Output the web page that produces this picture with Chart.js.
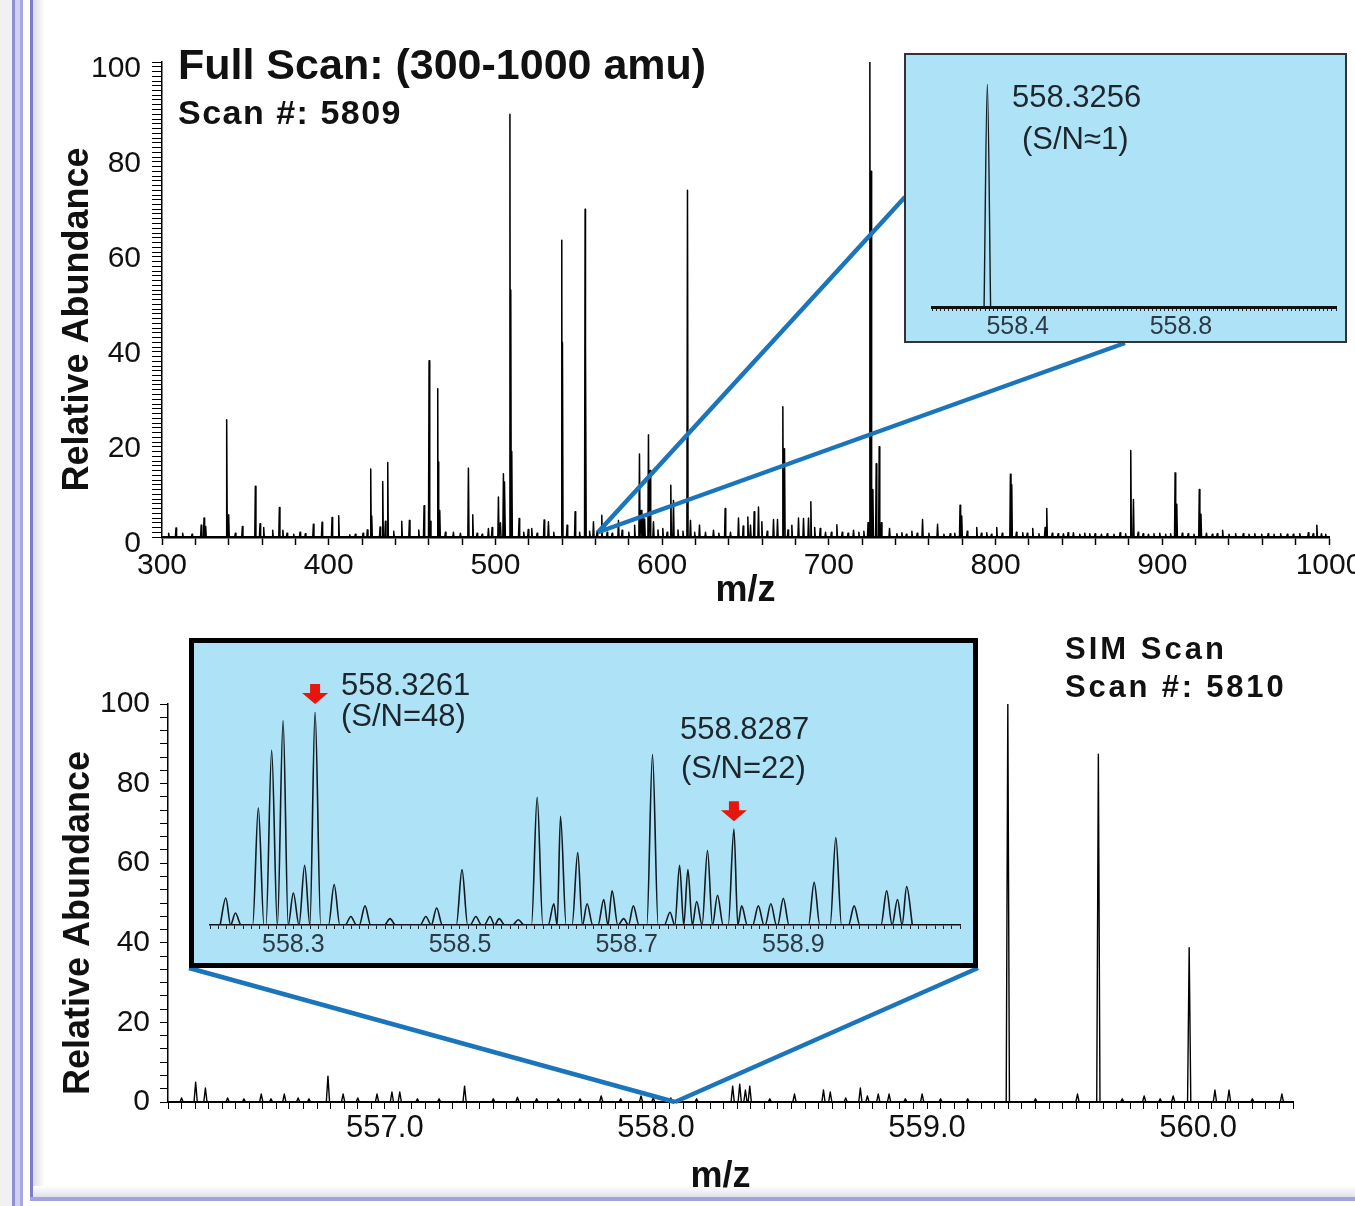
<!DOCTYPE html>
<html>
<head>
<meta charset="utf-8">
<title>Full scan vs SIM scan</title>
<script src="https://cdn.jsdelivr.net/npm/chart.js@4.4.1/dist/chart.umd.min.js"></script>
<style>
  html, body { margin: 0; padding: 0; background: #fff; }
  body { width: 1355px; height: 1206px; position: relative; overflow: hidden;
         font-family: "Liberation Sans", Arial, sans-serif; }
  canvas { position: absolute; left: 0; top: 0; z-index: 1; }
  .frame { position: absolute; z-index: 0; }
  .box { position: absolute; box-sizing: border-box; background: #aee2f6; z-index: 2; }
  .box canvas { position: absolute; left: 0; top: 0; }
  .txt { position: absolute; line-height: 1; white-space: pre; color: #111; z-index: 3; }
  .b { font-weight: bold; }
  .in { color: #1c262c; font-size: 31px; }
</style>
</head>
<body>
<!-- slide frame -->
<div class="frame" style="left:0;top:0;width:12px;height:1206px;background:#f1f1f4"></div>
<div class="frame" style="left:12px;top:0;width:3px;height:1206px;background:#8f8fd2"></div>
<div class="frame" style="left:15px;top:0;width:5px;height:1206px;background:#d0d0f2"></div>
<div class="frame" style="left:20px;top:0;width:3px;height:1206px;background:#a9a9e2"></div>
<div class="frame" style="left:30px;top:0;width:3px;height:1200px;background:#7c7cc9"></div>
<div class="frame" style="left:33px;top:0;width:12px;height:1196px;background:linear-gradient(to right,#dcdce6,#fff)"></div>
<div class="frame" style="left:33px;top:1186px;width:1322px;height:11px;background:linear-gradient(to bottom,#fff,#e0e0ea)"></div>
<div class="frame" style="left:30px;top:1197px;width:1325px;height:4px;background:#a4a4da"></div>

<canvas id="fullScan" width="1355" height="620"></canvas>
<canvas id="simScan" width="1355" height="586" style="top:620px"></canvas>

<div class="box" style="left:904px;top:53px;width:443px;height:290px;border:2px solid #333">
  <canvas id="fullInset" width="439" height="286"></canvas>
</div>
<div class="box" style="left:189px;top:638px;width:789px;height:330px;border:5px solid #000">
  <canvas id="simInset" width="779" height="320"></canvas>
</div>

<div class="txt b" style="left:178px;top:43px;font-size:43px">Full Scan: (300-1000 amu)</div>
<div class="txt b" style="left:178px;top:95px;font-size:34px;letter-spacing:1.5px">Scan #: 5809</div>
<div class="txt in" style="left:1012px;top:81px">558.3256</div>
<div class="txt in" style="left:1022px;top:123px">(S/N≈1)</div>
<div class="txt in" style="left:341px;top:669px">558.3261</div>
<div class="txt in" style="left:341px;top:700px">(S/N=48)</div>
<div class="txt in" style="left:680px;top:713px">558.8287</div>
<div class="txt in" style="left:681px;top:752px">(S/N=22)</div>
<div class="txt b" style="left:1065px;top:633px;font-size:31px;letter-spacing:3px">SIM Scan</div>
<div class="txt b" style="left:1065px;top:671px;font-size:31px;letter-spacing:2.8px">Scan #: 5810</div>

<script>
// ---- full scan 300-1000 (scan 5809): peak m/z and relative abundance ----
const fullScanMz = [
  304.0, 308.4, 312.4, 318.0, 323.5, 325.2, 326.2, 338.8, 340.0, 344.0, 348.2, 356.0, 358.8, 361.0,
  366.4, 370.4, 372.5, 375.0, 379.0, 382.8, 386.0, 390.8, 396.0, 402.0, 406.0, 412.6, 416.0, 420.6,
  423.2, 425.2, 425.8, 430.8, 432.4, 434.0, 435.4, 439.0, 443.8, 448.4, 454.0, 457.2, 460.2, 461.0,
  465.4, 465.8, 466.6, 470.0, 474.8, 479.0, 483.8, 486.4, 489.0, 492.0, 495.8, 498.0, 501.8, 503.0,
  504.8, 505.6, 508.7, 509.2, 509.8, 514.2, 517.0, 519.7, 521.8, 525.0, 529.2, 531.8, 535.0, 539.8,
  540.2, 543.0, 547.8, 550.5, 553.8, 554.1, 556.5, 558.8, 561.0, 563.8, 567.0, 570.0, 573.8, 576.0,
  580.0, 583.5, 586.4, 587.5, 588.5, 589.5, 591.8, 592.8, 594.8, 597.5, 600.4, 603.0, 605.2, 606.8,
  609.5, 612.5, 615.2, 617.0, 619.5, 622.4, 626.0, 630.8, 634.0, 637.8, 641.0, 645.8, 648.6, 651.4,
  653.0, 655.2, 657.8, 659.8, 663.0, 666.8, 669.2, 672.4, 673.4, 675.5, 677.8, 681.8, 684.8, 687.8,
  689.2, 691.5, 694.8, 698.0, 701.5, 704.8, 708.0, 711.5, 714.8, 718.0, 721.0, 723.5, 724.6, 725.3,
  726.4, 728.4, 730.2, 731.5, 736.4, 740.8, 743.8, 746.5, 749.8, 753.0, 756.2, 760.0, 765.2, 769.0,
  772.8, 775.5, 778.7, 779.7, 783.0, 788.7, 791.5, 794.7, 797.5, 800.7, 804.0, 808.9, 809.7, 812.5,
  816.3, 819.0, 822.3, 826.0, 829.7, 830.7, 834.0, 837.5, 840.7, 843.5, 846.7, 850.5, 853.5, 856.5,
  859.7, 863.5, 867.0, 871.0, 874.7, 878.0, 881.1, 882.7, 885.5, 888.5, 891.7, 895.0, 898.5, 902.0,
  905.0, 907.7, 908.7, 912.0, 915.5, 919.0, 922.2, 923.2, 926.5, 930.0, 933.0, 936.2, 940.0, 944.0,
  948.6, 952.0, 955.5, 959.6, 963.5, 967.0, 971.0, 975.0, 978.6, 982.5, 987.6, 990.5, 992.7, 995.5,
  998.0
];
const fullScanAbund = [
  0.8, 1.9, 0.8, 0.6, 2.5, 4.0, 2.2, 24.7, 4.7, 0.8, 2.2, 10.7, 2.8, 2.0,
  1.4, 6.2, 1.4, 0.8, 0.6, 1.0, 0.7, 2.7, 3.1, 4.1, 4.5, 0.5, 0.6, 0.8,
  1.5, 14.3, 4.4, 2.1, 11.7, 3.3, 15.7, 1.2, 3.3, 3.5, 1.5, 6.6, 37.1, 3.3,
  31.2, 15.8, 5.6, 1.0, 1.0, 0.8, 14.5, 4.7, 0.8, 0.6, 1.8, 2.0, 8.4, 3.0,
  13.3, 11.6, 89.0, 52.0, 18.0, 3.9, 1.0, 1.6, 1.8, 0.8, 3.6, 3.2, 1.0, 62.5,
  41.0, 2.5, 5.3, 1.0, 69.0, 40.0, 1.2, 3.2, 1.2, 4.6, 1.0, 0.8, 3.5, 1.4,
  1.0, 2.5, 17.5, 5.6, 4.5, 3.8, 21.5, 14.0, 3.2, 1.5, 1.8, 1.0, 10.9, 7.7,
  1.5, 1.2, 73.0, 3.5, 1.0, 2.5, 1.0, 1.4, 0.8, 6.0, 1.0, 4.0, 2.3, 4.2,
  2.5, 5.3, 6.3, 3.2, 1.2, 3.7, 3.7, 27.4, 18.6, 1.5, 2.5, 4.0, 3.9, 4.0,
  7.4, 2.0, 1.8, 1.0, 1.0, 2.6, 1.0, 0.8, 1.4, 1.0, 1.2, 3.0, 100.0, 77.0,
  10.0, 15.4, 19.0, 3.0, 1.8, 0.7, 0.9, 0.6, 1.2, 0.8, 3.7, 0.8, 2.7, 0.6,
  0.7, 0.8, 6.7, 4.4, 1.2, 2.0, 0.8, 0.9, 0.6, 2.0, 0.8, 13.2, 11.0, 1.0,
  0.9, 0.8, 1.8, 0.7, 2.0, 6.0, 0.8, 0.7, 0.7, 0.9, 0.9, 0.6, 0.8, 0.7,
  0.7, 0.6, 0.7, 0.6, 0.9, 0.7, 18.2, 7.9, 1.0, 0.7, 0.6, 0.7, 0.8, 0.6,
  0.7, 13.5, 6.9, 0.8, 0.7, 0.6, 10.0, 4.8, 0.8, 0.6, 0.7, 1.4, 0.6, 0.7,
  0.7, 0.6, 0.7, 0.6, 0.7, 0.6, 0.7, 0.6, 0.6, 0.7, 0.9, 0.7, 2.5, 0.7,
  0.6
];

// ---- zoom of the full scan around 558 ----
const fullInsetMz = [558.3256];
const fullInsetAbund = [100];

// ---- SIM scan (scan 5810) ----
const simMz = [
  556.250, 556.302, 556.338, 556.420, 556.480, 556.544, 556.580, 556.629, 556.680, 556.720,
  556.790, 556.846, 556.900, 556.971, 557.026, 557.055, 557.120, 557.200, 557.294, 557.400,
  557.489, 557.560, 557.640, 557.720, 557.798, 557.870, 557.945, 557.990, 558.055, 558.150,
  558.283, 558.309, 558.330, 558.346, 558.420, 558.511, 558.618, 558.643, 558.700, 558.754,
  558.780, 558.820, 558.860, 558.920, 558.982, 559.050, 559.150, 559.298, 559.400, 559.555,
  559.632, 559.720, 559.801, 559.860, 559.908, 559.967, 560.062, 560.114, 560.200, 560.309
];
const simAbund = [
  1.0, 5.0, 3.5, 1.0, 0.8, 2.0, 0.8, 2.0, 1.0, 0.8,
  6.5, 2.0, 1.0, 2.0, 2.5, 2.5, 0.8, 0.8, 4.0, 0.8,
  1.2, 0.8, 0.8, 0.8, 1.5, 0.8, 1.5, 1.0, 1.0, 0.8,
  4.0, 4.5, 3.0, 4.0, 0.8, 2.0, 3.0, 2.5, 1.0, 3.5,
  1.5, 2.0, 2.0, 0.8, 2.0, 0.8, 0.8, 100.0, 0.8, 2.0,
  87.4, 0.8, 1.5, 0.8, 1.5, 38.8, 3.0, 3.0, 0.8, 2.0
];

// ---- zoom of the SIM scan 558.2-559.1 ----
const simInsetMz = [
  558.2190, 558.2305, 558.2580, 558.2740, 558.2877, 558.3000, 558.3136, 558.3261, 558.3490, 558.3690,
  558.3860, 558.4160, 558.4590, 558.4720, 558.5024, 558.5190, 558.5360, 558.5470, 558.5700, 558.5926,
  558.6126, 558.6206, 558.6413, 558.6525, 558.6725, 558.6825, 558.6964, 558.7080, 558.7310, 558.7520,
  558.7635, 558.7735, 558.7840, 558.7970, 558.8090, 558.8287, 558.8380, 558.8580, 558.8730, 558.8880,
  558.9250, 558.9510, 558.9730, 559.0120, 559.0250, 559.0360
];
const simInsetAbund = [
  12.7, 5.6, 55, 82, 96, 15, 28, 100, 19, 4,
  9, 3, 4, 8, 26, 4, 4, 3, 2.5, 60,
  10, 51, 34, 10, 12, 16, 3, 9, 80, 6,
  28, 26, 11, 35, 14, 45, 9, 9, 10, 12.5,
  20, 41, 9, 16, 12, 18
];
const markedPeaks = [558.3261, 558.8287];

// tick labels
const fullScanTicks = [300, 400, 500, 600, 700, 800, 900, 1000];
const abundTicks = [0, 20, 40, 60, 80, 100];
const simTicks = [557, 558, 559, 560];
const fullInsetTicks = [558.4, 558.8];
const simInsetTicks = [558.3, 558.5, 558.7, 558.9];

Chart.defaults.font.family = '"Liberation Sans", Arial, sans-serif';
Chart.defaults.color = '#111';

// each peak becomes a little triangle standing on the baseline;
// when two peaks overlap they share one valley point between them
function profile(mz, abund, halfWidth) {
  const pts = [];
  mz.forEach((m, i) => {
    const last = pts[pts.length - 1];
    if (last && last.x > m - halfWidth) {
      last.x = (mz[i - 1] + m) / 2;
    } else {
      pts.push({ x: m - halfWidth, y: 0 });
    }
    pts.push({ x: m, y: abund[i] }, { x: m + halfWidth, y: 0 });
  });
  return pts;
}

// only label the ticks that are in the list
function labelIf(list, digits) {
  return function (value) {
    const hit = list.find((v) => Math.abs(v - value) < 1e-6);
    return hit === undefined ? '' : hit.toFixed(digits);
  };
}

function trace(points, color, width, smooth) {
  return {
    data: points,
    borderColor: color,
    borderWidth: width,
    borderJoinStyle: 'round',
    pointRadius: 0,
    fill: false,
    tension: smooth ? 0.4 : 0,
    cubicInterpolationMode: smooth ? 'monotone' : 'default',
  };
}

// keep the end labels from squeezing the plot
const noEdgePadding = (s, h) => { s.height = h; s.paddingLeft = 0; s.paddingRight = 0; };

// blue "zoom" lines from a spot on the axis to the inset box
const zoomLines = {
  id: 'zoomLines',
  afterDatasetsDraw(chart, args, opts) {
    const { ctx, scales } = chart;
    const ax = scales.x.getPixelForValue(opts.anchor);
    const ay = scales.y.getPixelForValue(opts.level);
    ctx.save();
    ctx.strokeStyle = '#1b75bb';
    ctx.lineWidth = 4.5;
    ctx.beginPath();
    opts.ends.forEach(([ex, ey]) => {
      ctx.moveTo(ax, ay);
      ctx.lineTo(ex, ey);
    });
    ctx.stroke();
    ctx.restore();
  },
};

// red arrows above the labelled peaks
const peakArrows = {
  id: 'peakArrows',
  afterDatasetsDraw(chart, args, opts) {
    const { ctx, scales } = chart;
    ctx.save();
    ctx.fillStyle = '#e8150d';
    opts.peaks.forEach((mz) => {
      const i = simInsetMz.indexOf(mz);
      const cx = scales.x.getPixelForValue(mz);
      const tip = scales.y.getPixelForValue(simInsetAbund[i]) - 8;
      ctx.beginPath();
      ctx.moveTo(cx - 5, tip - 20);
      ctx.lineTo(cx + 5, tip - 20);
      ctx.lineTo(cx + 5, tip - 11);
      ctx.lineTo(cx + 13, tip - 11);
      ctx.lineTo(cx, tip);
      ctx.lineTo(cx - 13, tip - 11);
      ctx.lineTo(cx - 5, tip - 11);
      ctx.closePath();
      ctx.fill();
    });
    ctx.restore();
  },
};

const noPlugins = { legend: { display: false }, tooltip: { enabled: false } };

// ---------------- full scan ----------------
new Chart(document.getElementById('fullScan'), {
  type: 'line',
  data: { datasets: [trace(profile(fullScanMz, fullScanAbund, 0.35), '#000', 1.5)] },
  options: {
    responsive: false,
    animation: false,
    layout: { autoPadding: false, padding: { left: 0, right: 26, top: 62, bottom: 0 } },
    plugins: {
      ...noPlugins,
      zoomLines: { anchor: 561.5, level: 1, ends: [[905, 197], [1125, 343]] },
    },
    scales: {
      x: {
        type: 'linear', min: 300, max: 1000,
        afterFit: (s) => noEdgePadding(s, 83),
        ticks: { stepSize: 20, autoSkip: false, maxRotation: 0, minRotation: 0, padding: 3,
                 font: { size: 30 }, color: '#111', callback: labelIf(fullScanTicks, 0) },
        grid: { drawOnChartArea: false, tickLength: 8, tickColor: '#000', tickWidth: 1.5 },
        border: { color: '#000', width: 2.5 },
        title: { display: true, text: 'm/z', color: '#111', font: { size: 36, weight: 'bold' },
                 padding: { top: 0, bottom: 7 } },
      },
      y: {
        min: 0, max: 100,
        afterFit: (s) => { s.width = 162; },
        ticks: { stepSize: 1, autoSkip: false, padding: 11, labelOffset: 7,
                 font: { size: 30 }, color: '#111', callback: labelIf(abundTicks, 0) },
        grid: { drawOnChartArea: false, tickLength: 10, tickColor: '#000', tickWidth: 1 },
        border: { color: '#000', width: 1.5 },
        title: { display: true, text: 'Relative Abundance\u00a0\u00a0\u00a0\u00a0', color: '#111',
                 font: { size: 36, weight: 'bold' }, padding: { top: 56, bottom: 0 } },
      },
    },
  },
  plugins: [zoomLines],
});

// ---------------- SIM scan ----------------
new Chart(document.getElementById('simScan'), {
  type: 'line',
  data: { datasets: [trace(profile(simMz, simAbund, 0.006), '#000', 1.4)] },
  options: {
    responsive: false,
    animation: false,
    layout: { autoPadding: false, padding: { left: 0, right: 62, top: 84, bottom: 0 } },
    plugins: {
      ...noPlugins,
      zoomLines: { anchor: 558.07, level: 0, ends: [[189, 348], [978, 348]] },
    },
    scales: {
      x: {
        type: 'linear', min: 556.2, max: 560.35,
        afterFit: (s) => noEdgePadding(s, 104),
        ticks: { stepSize: 0.05, autoSkip: false, maxRotation: 0, minRotation: 0, padding: 1,
                 font: { size: 31 }, color: '#111', callback: labelIf(simTicks, 1) },
        grid: { drawOnChartArea: false, tickLength: 7, tickColor: '#000', tickWidth: 1 },
        border: { color: '#000', width: 2 },
        title: { display: true, text: 'm/z\u00a0\u00a0', color: '#111', font: { size: 36, weight: 'bold' },
                 padding: { top: 0, bottom: 7 } },
      },
      y: {
        min: 0, max: 100,
        afterFit: (s) => { s.width = 168; },
        ticks: { stepSize: 10 / 3, autoSkip: false, padding: 10,
                 font: { size: 30 }, color: '#111', callback: labelIf(abundTicks, 0) },
        grid: { drawOnChartArea: false, tickLength: 8, tickColor: '#000', tickWidth: 1 },
        border: { color: '#000', width: 1.5 },
        title: { display: true, text: 'Relative Abundance\u00a0\u00a0\u00a0\u00a0', color: '#111',
                 font: { size: 36, weight: 'bold' }, padding: { top: 57, bottom: 0 } },
      },
    },
  },
  plugins: [zoomLines],
});

// ---------------- full scan inset ----------------
new Chart(document.getElementById('fullInset'), {
  type: 'line',
  data: { datasets: [trace(profile(fullInsetMz, fullInsetAbund, 0.008), '#101a20', 1.4, true)] },
  options: {
    responsive: false,
    animation: false,
    layout: { autoPadding: false, padding: { left: 26, right: 9, top: 29, bottom: 0 } },
    plugins: noPlugins,
    scales: {
      x: {
        type: 'linear', min: 558.19, max: 559.18,
        afterFit: (s) => noEdgePadding(s, 34),
        ticks: { stepSize: 0.01, autoSkip: false, maxRotation: 0, minRotation: 0, padding: 1,
                 font: { size: 25 }, color: '#2b3a44', callback: labelIf(fullInsetTicks, 1) },
        grid: { drawOnChartArea: false, tickLength: 4, tickColor: '#222', tickWidth: 1 },
        border: { color: '#111', width: 3 },
      },
      y: { display: false, min: 0, max: 100 },
    },
  },
});

// ---------------- SIM scan inset ----------------
new Chart(document.getElementById('simInset'), {
  type: 'line',
  data: { datasets: [trace(profile(simInsetMz, simInsetAbund, 0.0068), '#101a20', 1.6, true)] },
  options: {
    responsive: false,
    animation: false,
    layout: { autoPadding: false, padding: { left: 16, right: 13, top: 69, bottom: 0 } },
    plugins: { ...noPlugins, peakArrows: { peaks: markedPeaks } },
    scales: {
      x: {
        type: 'linear', min: 558.2, max: 559.1,
        afterFit: (s) => noEdgePadding(s, 38),
        ticks: { stepSize: 0.01, autoSkip: false, maxRotation: 0, minRotation: 0, padding: 1,
                 font: { size: 25 }, color: '#2b3a44', callback: labelIf(simInsetTicks, 1) },
        grid: { drawOnChartArea: false, tickLength: 4, tickColor: '#222', tickWidth: 1 },
        border: { color: '#111', width: 1.5 },
      },
      y: { display: false, min: 0, max: 100 },
    },
  },
  plugins: [peakArrows],
});
</script>
</body>
</html>
